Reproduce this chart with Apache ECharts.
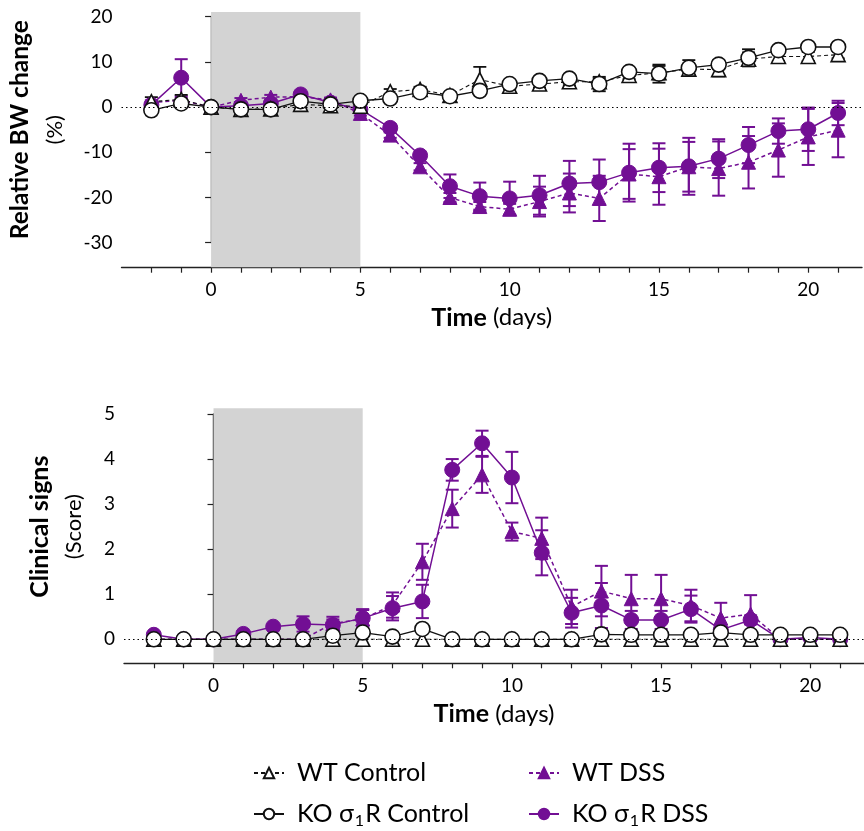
<!DOCTYPE html>
<html>
<head>
<meta charset="utf-8">
<script src="https://cdn.jsdelivr.net/npm/echarts@6/dist/echarts.min.js"></script>
<style>
  html, body { margin: 0; padding: 0; background: #fff; }
  #chart { width: 864px; height: 831px; }
</style>
</head>
<body>
<div id="chart"></div>
<script>
// ---------------- DATA ----------------
const days = [-2, -1, 0, 1, 2, 3, 4, 5, 6, 7, 8, 9, 10, 11, 12, 13, 14, 15, 16, 17, 18, 19, 20, 21];
const dssPeriod = [0, 5];
const xTickValues = [-2, -1, 0, 1, 2, 3, 4, 5, 6, 7, 8, 9, 10, 11, 12, 13, 14, 15, 16, 17, 18, 19, 20, 21];
const xLabelValues = [0, 5, 10, 15, 20];

const seriesNames = ['WT Control', 'WT DSS', 'KO σ1R Control', 'KO σ1R DSS'];

// Relative body-weight change (%), mean and SEM
const bwWtCtrl     = [1.2, 1.7, 0, -0.5, -0.4, 0.6, 0.3, 0.2, 3.4, 3.9, 2.6, 6.1, 4.6, 5.1, 5.6, 5.6, 7.0, 7.6, 8.4, 8.3, 10.6, 11.2, 11.2, 11.6];
const bwWtCtrlSem  = [1.0, 1.0, 0, 0.5, 0.5, 0.8, 0.5, 0.5, 0.6, 0.6, 0.6, 2.8, 0.6, 0.8, 0.8, 0.8, 0.8, 1.5, 1.2, 1.5, 1.5, 1.0, 1.0, 0.8];
const bwKoCtrl     = [-0.7, 0.8, 0, -0.5, -0.5, 1.3, 0.6, 1.4, 1.9, 3.3, 2.4, 3.6, 5.1, 5.8, 6.3, 5.1, 7.8, 7.4, 8.7, 9.4, 10.9, 12.6, 13.3, 13.3];
const bwKoCtrlSem  = [0.5, 0.6, 0, 0.5, 0.5, 0.6, 0.6, 0.6, 0.6, 0.6, 0.6, 0.8, 0.8, 0.8, 0.8, 1.6, 0.8, 2.0, 1.7, 1.0, 1.9, 0.8, 0.8, 0.8];
const bwWtDss      = [1.0, 1.5, 0, 1.5, 2.2, 2.3, 1.6, -1.4, -6.2, -13.2, -20.0, -22.0, -22.6, -20.9, -19.0, -20.2, -14.8, -15.4, -13.2, -13.6, -12.2, -9.5, -6.6, -5.1];
const bwWtDssSem   = [0.5, 0.5, 0, 0.5, 0.5, 0.5, 0.5, 0.5, 0.6, 0.8, 1.0, 1.0, 1.2, 3.3, 4.3, 5.0, 5.5, 6.2, 5.5, 6.0, 5.8, 5.9, 6.2, 6.0];
const bwKoDss      = [0.5, 6.5, 0, 0.3, 0.8, 2.8, 1.0, -0.5, -4.6, -10.7, -17.5, -19.7, -20.2, -19.5, -16.9, -16.6, -14.5, -13.4, -13.1, -11.4, -8.4, -5.3, -4.9, -1.3];
const bwKoDssSem   = [0.5, 4.1, 0, 0.5, 0.5, 0.5, 0.5, 0.5, 0.8, 0.8, 2.6, 3.0, 3.7, 4.3, 5.0, 5.0, 6.4, 5.4, 6.3, 4.3, 4.0, 2.8, 4.8, 2.7];

// Clinical signs (score), mean and SEM
const csWtCtrl     = [0, 0, 0, 0, 0, 0, 0, 0, 0, 0, 0, 0, 0, 0, 0, 0, 0, 0, 0, 0, 0, 0, 0, 0];
const csWtCtrlSem  = [0, 0, 0, 0, 0, 0, 0, 0, 0, 0, 0, 0, 0, 0, 0, 0, 0, 0, 0, 0, 0, 0, 0, 0];
const csKoCtrl     = [0, 0, 0, 0, 0, 0, 0.08, 0.15, 0.06, 0.23, 0, 0, 0, 0, 0, 0.11, 0.1, 0.1, 0.1, 0.15, 0.1, 0.1, 0.1, 0.1];
const csKoCtrlSem  = [0, 0, 0, 0, 0, 0, 0.05, 0.05, 0.05, 0.05, 0, 0, 0, 0, 0, 0.05, 0.05, 0.05, 0.05, 0.05, 0.05, 0.05, 0.05, 0.05];
const csWtDss      = [0, 0, 0, 0, 0, 0, 0.35, 0.45, 0.76, 1.72, 2.9, 3.65, 2.39, 2.24, 0.72, 1.07, 0.9, 0.9, 0.75, 0.47, 0.56, 0, 0, 0];
const csWtDssSem   = [0, 0, 0, 0, 0, 0, 0.15, 0.2, 0.28, 0.4, 0.42, 0.4, 0.2, 0.46, 0.38, 0.56, 0.53, 0.53, 0.35, 0.34, 0.42, 0, 0, 0];
const csKoDss      = [0.1, 0, 0, 0.12, 0.28, 0.34, 0.32, 0.47, 0.69, 0.84, 3.76, 4.35, 3.59, 1.92, 0.59, 0.75, 0.43, 0.43, 0.67, 0.21, 0.43, 0, 0.04, 0];
const csKoDssSem   = [0.05, 0, 0, 0.05, 0.05, 0.17, 0.12, 0.2, 0.27, 0.37, 0.24, 0.28, 0.57, 0.5, 0.33, 0.5, 0.2, 0.2, 0.3, 0.1, 0.1, 0.05, 0.05, 0];

// ---------------- STYLE ----------------
const FONT = 'Lato';
const PURPLE = '#720f94';
const BLACK = '#111111';
const AXIS_COLOR = '#222222';

const pairs = (ys) => days.map((d, i) => [d, ys[i]]);
const triples = (ys, es) => days.map((d, i) => [d, ys[i], es[i]]);

function errSeries(gi, ys, es, color, lw) {
  return {
    type: 'custom', xAxisIndex: gi, yAxisIndex: gi, silent: true, z: 3,
    data: triples(ys, es),
    encode: { x: 0, y: 1 },
    renderItem: function (params, api) {
      const x = api.value(0), y = api.value(1), e = api.value(2);
      if (!e) return null;
      const t = api.coord([x, y + e]);
      const b = api.coord([x, y - e]);
      const w = 6.5;
      const st = { stroke: color, lineWidth: lw };
      return { type: 'group', children: [
        { type: 'line', shape: { x1: t[0], y1: t[1], x2: b[0], y2: b[1] }, style: st },
        { type: 'line', shape: { x1: t[0] - w, y1: t[1], x2: t[0] + w, y2: t[1] }, style: st },
        { type: 'line', shape: { x1: b[0] - w, y1: b[1], x2: b[0] + w, y2: b[1] }, style: st }
      ] };
    }
  };
}

function lineSeries(gi, name, ys, symbol, filled, color, dashed, lw) {
  return {
    type: 'line', name: name, xAxisIndex: gi, yAxisIndex: gi, z: 4,
    data: pairs(ys),
    symbol: symbol, symbolSize: symbol === 'triangle' ? 14 : 15,
    showAllSymbol: true,
    lineStyle: { color: color, width: lw, type: dashed ? [4, 3] : 'solid' },
    itemStyle: { color: filled ? color : '#ffffff', borderColor: color, borderWidth: filled ? 1 : 1.6, opacity: 1 },
    emphasis: { disabled: true },
    animation: false
  };
}

function shadeSeries(gi, extTop, extBottom) {
  return {
    type: 'custom', xAxisIndex: gi, yAxisIndex: gi, silent: true, z: 1,
    data: [dssPeriod],
    encode: { x: [0, 1] },
    renderItem: function (params, api) {
      const cs = params.coordSys;
      const p0 = api.coord([api.value(0), 0]);
      const p1 = api.coord([api.value(1), 0]);
      return { type: 'rect',
        shape: { x: p0[0], y: cs.y - extTop, width: p1[0] - p0[0], height: cs.height + extTop + extBottom },
        style: { fill: '#d3d3d3' } };
    },
    markLine: {
      silent: true, symbol: ['none', 'none'], animation: false,
      label: { show: false },
      lineStyle: { color: '#000', type: [1.5, 3], width: 1.2 },
      data: [{ yAxis: 0 }]
    }
  };
}

function xAxisDef(gi, offset, gap) {
  return {
    type: 'value', gridIndex: gi, min: -3, max: 21.8, offset: offset,
    axisLine: { show: true, onZero: false, lineStyle: { color: AXIS_COLOR, width: 1.4 } },
    axisTick: { show: true, length: 5, customValues: xTickValues, lineStyle: { color: AXIS_COLOR, width: 1.2 } },
    axisLabel: { customValues: xLabelValues, margin: 13, fontSize: 19, color: '#000', fontFamily: FONT },
    splitLine: { show: false },
    name: '{b|Time} {n|(days)}', nameLocation: 'middle', nameGap: gap,
    nameTextStyle: { fontFamily: FONT, color: '#000', fontSize: 24, rich: {
      b: { fontSize: 25, fontWeight: 'bold', fontFamily: FONT, color: '#000', lineHeight: 28 },
      n: { fontSize: 24, fontFamily: FONT, color: '#000', lineHeight: 28 } } }
  };
}

function yAxisDef(gi, min, max, interval, title, sub, gap, fsB, fsN) {
  return {
    type: 'value', gridIndex: gi, min: min, max: max, interval: interval,
    axisLine: { show: true, lineStyle: { color: AXIS_COLOR, width: 1.4 } },
    axisTick: { show: true, length: 6, lineStyle: { color: AXIS_COLOR, width: 1.2 } },
    axisLabel: { margin: 9, fontSize: 19, color: '#000', fontFamily: FONT },
    splitLine: { show: false },
    name: '{b|' + title + '}\n{n|' + sub + '}', nameLocation: 'middle', nameRotate: 90, nameGap: gap,
    nameTextStyle: { fontFamily: FONT, color: '#000', rich: {
      b: { fontSize: fsB, fontWeight: 'bold', fontFamily: FONT, color: '#000', lineHeight: 34 },
      n: { fontSize: fsN, fontFamily: FONT, color: '#000', lineHeight: 34 } } }
  };
}

const legendRich = {
  s: { fontSize: 16, fontFamily: FONT, color: '#000', verticalAlign: 'bottom', lineHeight: 30, padding: [0, 1, 0, 1] }
};
function legendFormatter(name) {
  return name.replace('σ1', 'σ{s|1}');
}
function legendDef(left, names) {
  return {
    orient: 'vertical', left: left, top: 759, data: names,
    padding: 0,
    itemWidth: 30, itemHeight: 13, itemGap: 12,
    selectedMode: false,
    formatter: legendFormatter,
    textStyle: { fontSize: 25, fontFamily: FONT, color: '#000', lineHeight: 28, padding: [0, 0, 0, 8], rich: legendRich }
  };
}

const option = {
  animation: false,
  backgroundColor: '#ffffff',
  textStyle: { fontFamily: FONT },
  grid: [
    { left: 120, top: 16.7, width: 742, height: 226 },
    { left: 124, top: 414, width: 740, height: 225.3 }
  ],
  xAxis: [xAxisDef(0, 25, 36), xAxisDef(1, 24, 37)],
  yAxis: [
    yAxisDef(0, -30, 20, 10, 'Relative BW change', '(%)', 50, 24.5, 22),
    yAxisDef(1, 0, 5, 1, 'Clinical signs', '(Score)', 33, 25, 22)
  ],
  legend: [
    legendDef(253, [seriesNames[0], seriesNames[2]]),
    legendDef(528, [seriesNames[1], seriesNames[3]])
  ],
  series: [
    shadeSeries(0, 4.7, 24.5),
    errSeries(0, bwWtDss, bwWtDssSem, PURPLE, 2),
    lineSeries(0, seriesNames[1], bwWtDss, 'triangle', true, PURPLE, true, 1.5),
    errSeries(0, bwKoDss, bwKoDssSem, PURPLE, 2),
    lineSeries(0, seriesNames[3], bwKoDss, 'circle', true, PURPLE, false, 1.5),
    errSeries(0, bwWtCtrl, bwWtCtrlSem, BLACK, 1.8),
    lineSeries(0, seriesNames[0], bwWtCtrl, 'triangle', false, BLACK, true, 1.1),
    errSeries(0, bwKoCtrl, bwKoCtrlSem, BLACK, 1.8),
    lineSeries(0, seriesNames[2], bwKoCtrl, 'circle', false, BLACK, false, 1.3),

    shadeSeries(1, 5.7, 23.5),
    errSeries(1, csWtDss, csWtDssSem, PURPLE, 2),
    lineSeries(1, seriesNames[1], csWtDss, 'triangle', true, PURPLE, true, 1.5),
    errSeries(1, csKoDss, csKoDssSem, PURPLE, 2),
    lineSeries(1, seriesNames[3], csKoDss, 'circle', true, PURPLE, false, 1.5),
    errSeries(1, csWtCtrl, csWtCtrlSem, BLACK, 1.8),
    lineSeries(1, seriesNames[0], csWtCtrl, 'triangle', false, BLACK, true, 1.1),
    errSeries(1, csKoCtrl, csKoCtrlSem, BLACK, 1.8),
    lineSeries(1, seriesNames[2], csKoCtrl, 'circle', false, BLACK, false, 1.3)
  ]
};

const chart = echarts.init(document.getElementById('chart'), null, { renderer: 'canvas' });
chart.setOption(option);
</script>
</body>
</html>
